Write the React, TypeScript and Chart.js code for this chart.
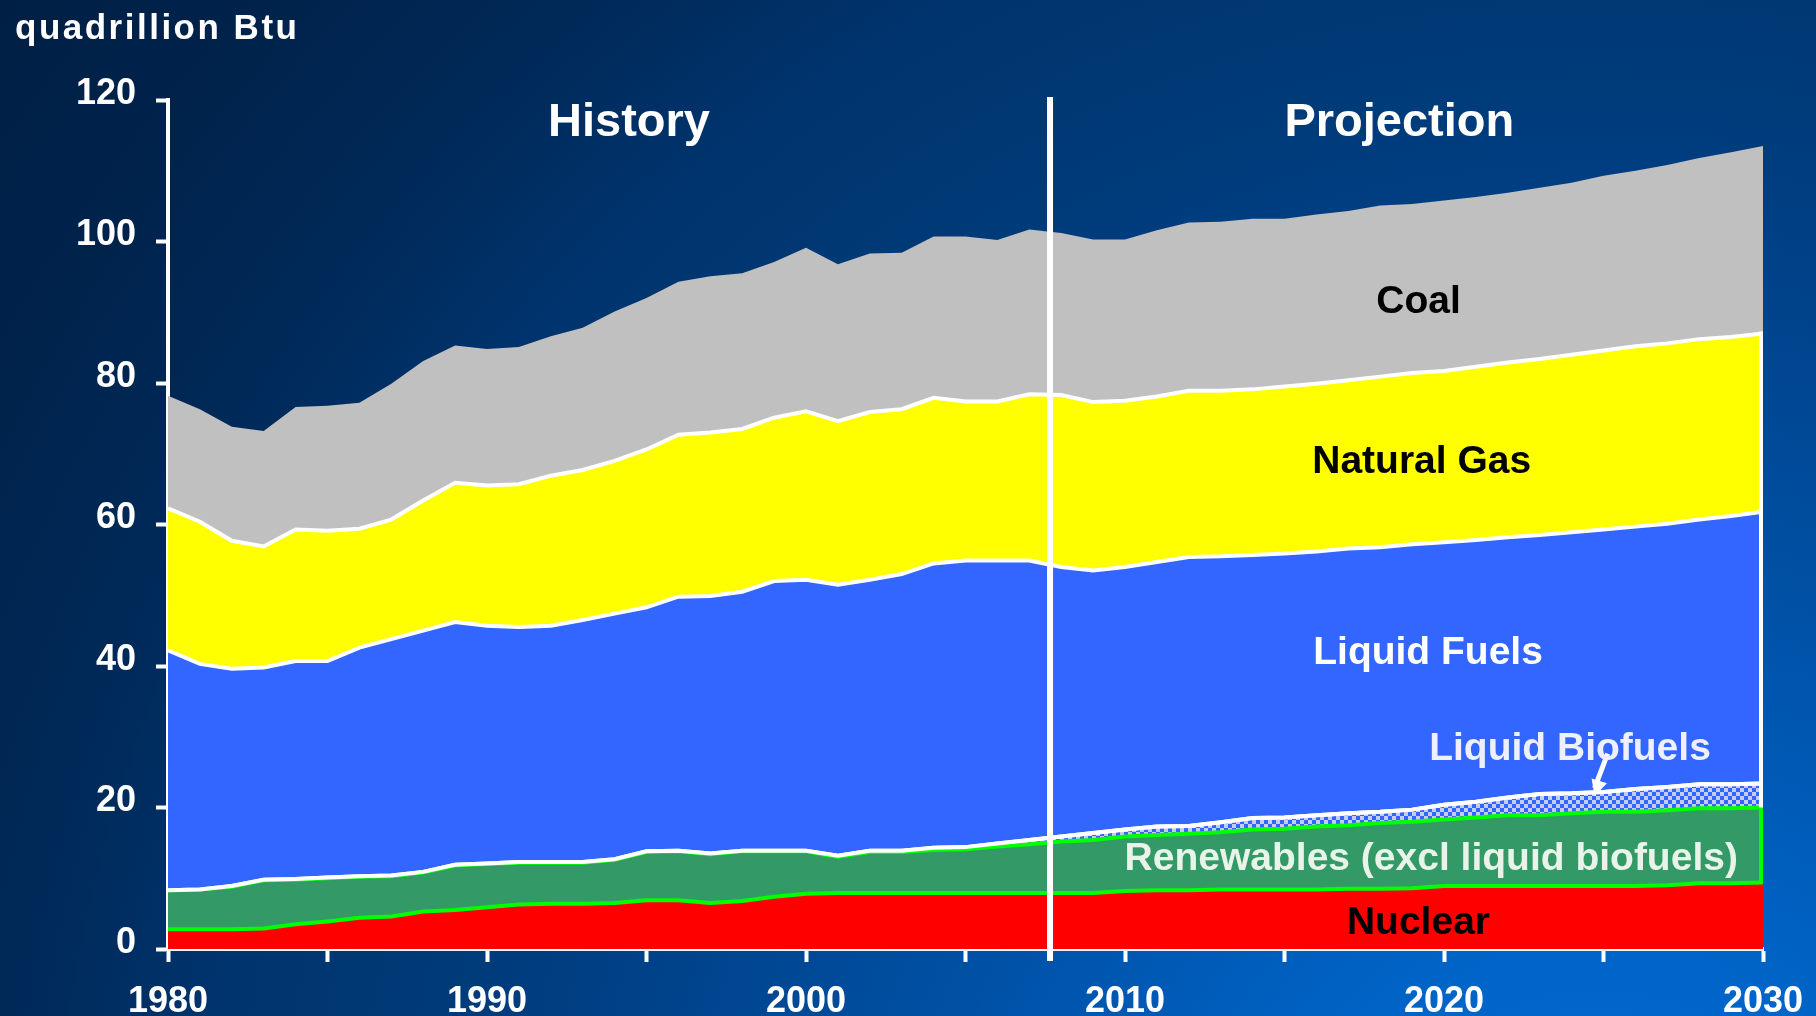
import React, { useEffect, useRef } from "react";
import { Chart, registerables } from "chart.js";

Chart.register(...registerables);

// ---- data (quadrillion Btu) ----
const years = [
  1980, 1981, 1982, 1983, 1984, 1985, 1986, 1987, 1988, 1989,
  1990, 1991, 1992, 1993, 1994, 1995, 1996, 1997, 1998, 1999,
  2000, 2001, 2002, 2003, 2004, 2005, 2006, 2007, 2008, 2009,
  2010, 2011, 2012, 2013, 2014, 2015, 2016, 2017, 2018, 2019,
  2020, 2021, 2022, 2023, 2024, 2025, 2026, 2027, 2028, 2029,
  2030,
];

const nuclear = [
  2.8, 2.8, 2.8, 2.9, 3.5, 3.9, 4.4, 4.6, 5.3, 5.5,
  5.9, 6.3, 6.4, 6.4, 6.5, 6.9, 6.9, 6.5, 6.8, 7.4,
  7.8, 7.9, 7.9, 7.9, 7.9, 7.9, 7.9, 7.9, 7.9, 7.9,
  8.2, 8.3, 8.3, 8.4, 8.4, 8.4, 8.4, 8.5, 8.5, 8.6,
  8.9, 8.9, 8.9, 8.9, 8.9, 8.9, 8.9, 9.0, 9.3, 9.3,
  9.4,
];

const renewables = [
  5.5, 5.6, 6.0, 6.8, 6.3, 6.1, 5.8, 5.7, 5.5, 6.3,
  6.1, 5.9, 5.8, 5.8, 6.1, 6.8, 6.9, 6.9, 7.0, 6.4,
  6.0, 5.1, 5.8, 5.8, 6.1, 6.2, 6.6, 6.9, 7.3, 7.5,
  7.7, 7.8, 8.0, 8.1, 8.5, 8.6, 8.9, 9.0, 9.3, 9.4,
  9.4, 9.7, 10.0, 10.0, 10.3, 10.5, 10.5, 10.6, 10.6, 10.6,
  10.6,
];

const liquidBiofuels = [
  0.0, 0.0, 0.1, 0.1, 0.1, 0.1, 0.1, 0.1, 0.1, 0.1,
  0.1, 0.1, 0.1, 0.1, 0.1, 0.1, 0.1, 0.1, 0.1, 0.1,
  0.1, 0.2, 0.2, 0.2, 0.3, 0.3, 0.4, 0.6, 0.7, 1.0,
  1.0, 1.2, 1.1, 1.4, 1.6, 1.6, 1.6, 1.7, 1.6, 1.7,
  2.1, 2.2, 2.5, 3.0, 2.8, 2.8, 3.2, 3.3, 3.4, 3.4,
  3.4,
];

const liquidFuels = [
  33.9, 31.9, 30.7, 30.0, 30.8, 30.6, 32.3, 33.4, 34.1, 34.3,
  33.6, 33.2, 33.4, 34.2, 34.7, 34.5, 35.9, 36.4, 36.6, 38.1,
  38.3, 38.3, 38.3, 39.1, 40.2, 40.5, 40.0, 39.5, 38.1, 37.1,
  37.1, 37.4, 38.0, 37.6, 37.2, 37.3, 37.3, 37.4, 37.4, 37.5,
  37.1, 37.0, 36.8, 36.6, 36.9, 37.1, 37.1, 37.2, 37.4, 37.9,
  38.4,
];

const naturalGas = [
  20.1, 20.1, 18.1, 17.1, 18.6, 18.4, 16.8, 16.9, 18.4, 19.7,
  19.8, 20.2, 21.2, 21.2, 21.6, 22.3, 22.9, 23.1, 23.0, 23.1,
  23.8, 23.1, 23.7, 23.3, 23.4, 22.5, 22.5, 23.5, 24.3, 23.8,
  23.5, 23.4, 23.5, 23.4, 23.4, 23.6, 23.7, 23.8, 24.1, 24.2,
  24.2, 24.5, 24.7, 24.9, 25.1, 25.3, 25.5, 25.5, 25.5, 25.3,
  25.2,
];

const coal = [
  15.9, 15.9, 16.1, 16.3, 17.3, 17.7, 17.8, 19.2, 19.7, 19.4,
  19.3, 19.4, 19.7, 20.1, 21.1, 21.4, 21.6, 22.1, 22.0, 22.0,
  23.1, 22.2, 22.4, 22.1, 22.8, 23.3, 22.8, 23.3, 22.9, 23.0,
  22.8, 23.5, 23.8, 23.9, 24.1, 23.7, 23.9, 23.9, 24.2, 23.9,
  24.1, 24.0, 24.0, 24.2, 24.3, 24.7, 24.8, 25.2, 25.6, 26.1,
  26.5,
];

const xTickValues = [1980, 1990, 2000, 2010, 2020, 2030];
const yTickValues = [0, 20, 40, 60, 80, 100, 120];
const projectionStartYear = 2007.65;

// in-chart labels: text, year, value
const seriesLabelTexts = [
  "Coal",
  "Natural Gas",
  "Liquid Fuels",
  "Liquid Biofuels",
  "Renewables (excl liquid biofuels)",
  "Nuclear",
];
const seriesLabelYears = [2019.2, 2019.3, 2019.5, 2023.95, 2019.6, 2019.2];
const seriesLabelValues = [91.9, 69.3, 42.2, 28.7, 13.2, 4.1];
const seriesLabelColors = ["#000000", "#000000", "#ffffff", "#eef0ff", "#e8f4ea", "#000000"];

const periodLabelTexts = ["History", "Projection"];
const periodLabelYears = [1994.45, 2018.6];
const periodLabelValue = 117.3;

const unitLabel = "quadrillion Btu";

// arrow from "Liquid Biofuels" label to band: [year, value]
const arrowFrom = [2025.13, 27.6];
const arrowTo = [2024.72, 21.6];

const FONT = "'Liberation Sans', Arial, Helvetica, sans-serif";

function makePattern(): CanvasPattern | string {
  const tile = document.createElement("canvas");
  tile.width = 8;
  tile.height = 8;
  const c = tile.getContext("2d");
  if (!c) return "#6f8cf8";
  c.fillStyle = "#3366ff";
  c.fillRect(0, 0, 8, 8);
  c.fillStyle = "#c4ccf4";
  c.fillRect(0, 0, 4, 4);
  c.fillRect(4, 4, 4, 4);
  const p = c.createPattern(tile, "repeat");
  return p || "#6f8cf8";
}

function drawText(
  ctx: CanvasRenderingContext2D,
  text: string,
  x: number,
  baseline: number,
  size: number,
  color: string,
  align: CanvasTextAlign = "center",
  spacing = 0
) {
  ctx.save();
  ctx.font = `bold ${size}px ${FONT}`;
  ctx.fillStyle = color;
  ctx.textAlign = align;
  ctx.textBaseline = "alphabetic";
  (ctx as any).letterSpacing = `${spacing}px`;
  ctx.fillText(text, x, baseline);
  ctx.restore();
}

const overlayPlugin = {
  id: "eiaOverlay",
  afterDatasetsDraw(chart: any) {
    const ctx: CanvasRenderingContext2D = chart.ctx;
    const xs = chart.scales.x;
    const ys = chart.scales.y;
    const last = years.length - 1;

    ctx.save();
    // keep the white biofuels boundary above the green renewables line
    const bioPts = chart.getDatasetMeta(2).data;
    ctx.strokeStyle = "#ffffff";
    ctx.lineWidth = 4;
    ctx.lineJoin = "miter";
    ctx.beginPath();
    bioPts.forEach((p: any, i: number) => {
      if (i === 0) ctx.moveTo(p.x, p.y);
      else ctx.lineTo(p.x, p.y);
    });
    ctx.stroke();

    const pNuc = chart.getDatasetMeta(0).data[last];
    const pRen = chart.getDatasetMeta(1).data[last];
    const pGas = chart.getDatasetMeta(4).data[last];
    const xr = xs.getPixelForValue(years[last]);
    // right edge borders
    ctx.fillStyle = "#00ff00";
    ctx.fillRect(xr - 4, pRen.y, 4, pNuc.y - pRen.y);
    ctx.fillStyle = "#ffffff";
    ctx.fillRect(xr - 4, pGas.y - 2, 4, pRen.y - pGas.y + 2);

    // divider between history and projection
    const xd = xs.getPixelForValue(projectionStartYear);
    const yTop = ys.getPixelForValue(120) - 3;
    const yBot = ys.getPixelForValue(0) + 12;
    ctx.fillRect(xd - 3, yTop, 6, yBot - yTop);

    // arrow
    const ax0 = xs.getPixelForValue(arrowFrom[0]);
    const ay0 = ys.getPixelForValue(arrowFrom[1]);
    const ax1 = xs.getPixelForValue(arrowTo[0]);
    const ay1 = ys.getPixelForValue(arrowTo[1]);
    ctx.lineWidth = 5;
    ctx.beginPath();
    ctx.moveTo(ax0, ay0);
    ctx.lineTo(ax1, ay1 - 8);
    ctx.stroke();
    const ang = Math.atan2(ay1 - ay0, ax1 - ax0);
    ctx.beginPath();
    ctx.moveTo(ax1, ay1);
    ctx.lineTo(ax1 - 16 * Math.cos(ang) + 8 * Math.sin(ang), ay1 - 16 * Math.sin(ang) - 8 * Math.cos(ang));
    ctx.lineTo(ax1 - 16 * Math.cos(ang) - 8 * Math.sin(ang), ay1 - 16 * Math.sin(ang) + 8 * Math.cos(ang));
    ctx.closePath();
    ctx.fill();
    ctx.restore();
  },
  afterDraw(chart: any) {
    const ctx: CanvasRenderingContext2D = chart.ctx;
    const xs = chart.scales.x;
    const ys = chart.scales.y;
    const size = 39;
    seriesLabelTexts.forEach((t, i) => {
      const px = xs.getPixelForValue(seriesLabelYears[i]);
      const py = ys.getPixelForValue(seriesLabelValues[i]) + 0.358 * size;
      drawText(ctx, t, px, py, size, seriesLabelColors[i]);
    });
    periodLabelTexts.forEach((t, i) => {
      const px = xs.getPixelForValue(periodLabelYears[i]);
      const py = ys.getPixelForValue(periodLabelValue) + 0.358 * 47;
      drawText(ctx, t, px, py, 47, "#ffffff");
    });
    drawText(ctx, unitLabel, 15, 39, 35, "#ffffff", "left", 2.5);
  },
};

export default function App() {
  const canvasRef = useRef<HTMLCanvasElement | null>(null);

  useEffect(() => {
    document.body.style.margin = "0";
    const canvas = canvasRef.current;
    if (!canvas) return;
    const pattern = makePattern();
    const pts = (arr: number[]) => arr.map((v, i) => ({ x: years[i], y: v }));
    const tickFont = { family: FONT, size: 36, weight: "bold" as const };

    const chart = new Chart(canvas, {
      type: "line",
      data: {
        datasets: [
          {
            label: "Nuclear",
            data: pts(nuclear),
            backgroundColor: "#ff0000",
            borderColor: "#00ff00",
            borderWidth: 4,
            fill: "origin",
          },
          {
            label: "Renewables (excl liquid biofuels)",
            data: pts(renewables),
            backgroundColor: "#339966",
            borderColor: "#00ff00",
            borderWidth: 4,
            fill: "-1",
          },
          {
            label: "Liquid Biofuels",
            data: pts(liquidBiofuels),
            backgroundColor: pattern as any,
            borderColor: "#ffffff",
            borderWidth: 4,
            fill: "-1",
          },
          {
            label: "Liquid Fuels",
            data: pts(liquidFuels),
            backgroundColor: "#3366ff",
            borderColor: "#ffffff",
            borderWidth: 4,
            fill: "-1",
          },
          {
            label: "Natural Gas",
            data: pts(naturalGas),
            backgroundColor: "#ffff00",
            borderColor: "#ffffff",
            borderWidth: 4,
            fill: "-1",
          },
          {
            label: "Coal",
            data: pts(coal),
            backgroundColor: "#c0c0c0",
            borderColor: "#c0c0c0",
            borderWidth: 0,
            fill: "-1",
          },
        ],
      },
      options: {
        responsive: false,
        animation: false,
        devicePixelRatio: 1,
        layout: { padding: { left: 0, right: 53, top: 100, bottom: 0 } },
        elements: { point: { radius: 0, hoverRadius: 0 }, line: { tension: 0 } },
        plugins: {
          legend: { display: false },
          tooltip: { enabled: false },
          title: { display: false },
        },
        scales: {
          x: {
            type: "linear",
            min: 1980,
            max: 2030,
            z: 1,
            ticks: {
              stepSize: 5,
              autoSkip: false,
              maxRotation: 0,
              color: "#ffffff",
              font: tickFont,
              padding: 18,
              callback: (v: any) => (xTickValues.includes(Number(v)) ? String(v) : ""),
            },
            grid: {
              display: true,
              drawOnChartArea: false,
              drawTicks: true,
              tickLength: 13,
              tickWidth: 4,
              tickColor: "#ffffff",
              color: "#ffffff",
            },
            border: { display: true, color: "#ffffff", width: 4 },
            afterFit: (s: any) => {
              s.height = 67;
              s.paddingLeft = 0;
              s.paddingRight = 0;
            },
          },
          y: {
            stacked: true,
            min: 0,
            max: 120,
            z: 1,
            ticks: {
              stepSize: 20,
              color: "#ffffff",
              font: tickFont,
              padding: 20,
              labelOffset: -6,
              callback: (v: any) => (yTickValues.includes(Number(v)) ? String(v) : ""),
            },
            grid: {
              display: true,
              drawOnChartArea: false,
              drawTicks: true,
              tickLength: 12,
              tickWidth: 4,
              tickColor: "#ffffff",
              color: "#ffffff",
            },
            border: { display: true, color: "#ffffff", width: 4 },
            afterFit: (s: any) => {
              s.width = 168;
            },
          },
        },
      } as any,
      plugins: [overlayPlugin],
    });

    return () => {
      chart.destroy();
    };
  }, []);

  return (
    <div
      style={{
        position: "absolute",
        left: 0,
        top: 0,
        width: 1816,
        height: 1016,
        overflow: "hidden",
        background:
          "radial-gradient(circle 2100px at 1600px 1250px, #0070e0 0px, #0062c4 350px, #0052a8 650px, #003e82 1065px, #003a76 1210px, #00336c 1420px, #002a5a 1580px, #00234c 1800px, #001e42 2100px)",
      }}
    >
      <canvas ref={canvasRef} width={1816} height={1016} style={{ display: "block" }} />
    </div>
  );
}
